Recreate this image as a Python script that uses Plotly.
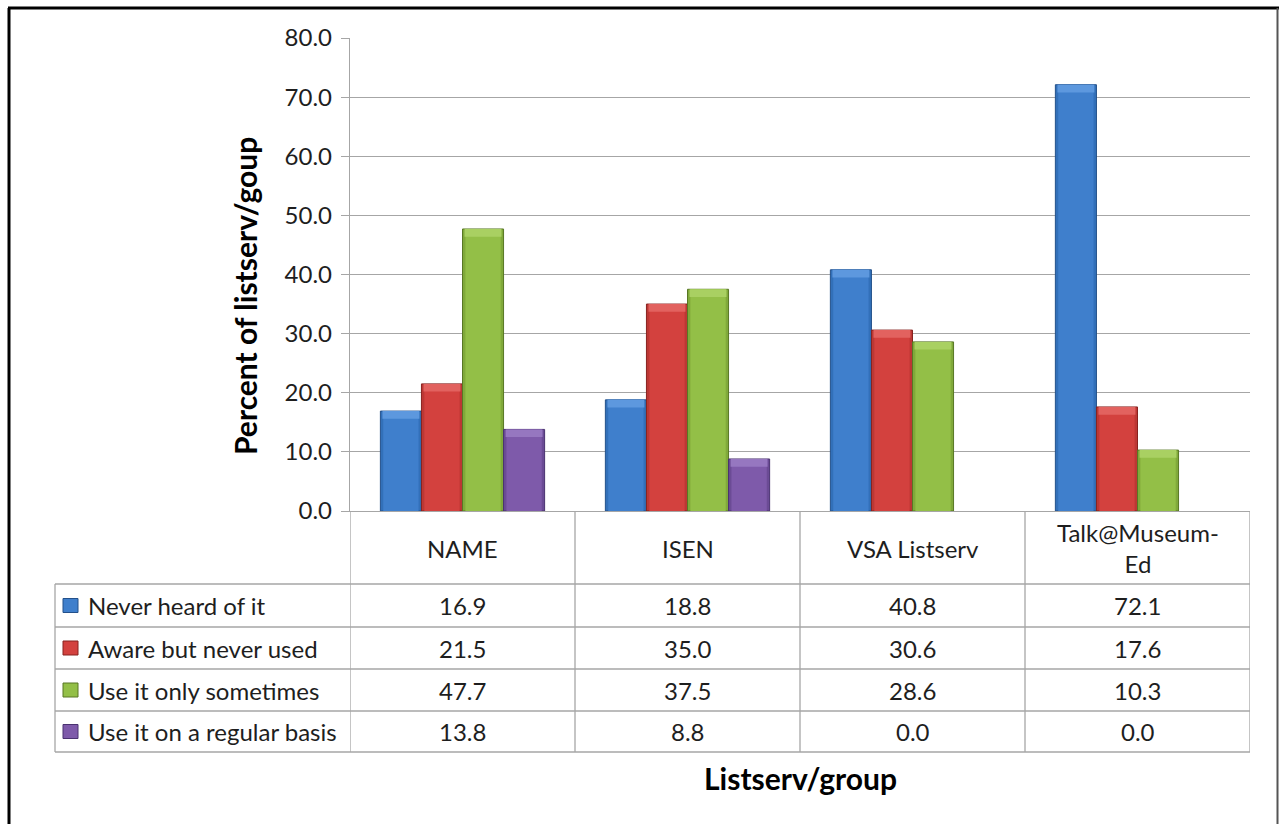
import plotly.graph_objects as go

# Survey data: awareness / use of each listserv or group (percent)
categories = ["NAME", "ISEN", "VSA Listserv", "Talk@Museum-Ed"]
category_labels = ["NAME", "ISEN", "VSA Listserv", "Talk@Museum-<br>Ed"]
series_names = ["Never heard of it", "Aware but never used",
                "Use it only sometimes", "Use it on a regular basis"]
never_heard = [16.9, 18.8, 40.8, 72.1]
aware_never_used = [21.5, 35.0, 30.6, 17.6]
use_sometimes = [47.7, 37.5, 28.6, 10.3]
use_regular = [13.8, 8.8, 0.0, 0.0]
series_values = [never_heard, aware_never_used, use_sometimes, use_regular]
y_ticks = [0, 10, 20, 30, 40, 50, 60, 70, 80]

# Bevelled bar look: side / body / top-highlight / outline shades
body_colors = ["#3F7FCC", "#D3413E", "#93BF47", "#7E5AAA"]
side_colors = ["#3270B9", "#BC3734", "#80A93A", "#6B4B95"]
light_colors = ["#5D98DE", "#E2625F", "#A9D062", "#9677C0"]
edge_colors = ["#23508A", "#87221F", "#587724", "#4A3270"]

W, H = 1279, 824
FONT = "Lato"
GRID = "#A6A6A6"
TEXT = "#1E1E1E"

GAP = 0.27                     # gap between category groups (axis units)
N = len(series_names)
BAR_W = (1 - GAP) / N          # one bar's width in category units
BEVEL = 1.3                    # height of the lighter top bevel (y units)


def px(x):
    return x / W


def py(y):
    return 1 - y / H


fig = go.Figure()

for i, (name, vals) in enumerate(zip(series_names, series_values)):
    off = -(1 - GAP) / 2 + i * BAR_W
    inner = BAR_W * 0.86
    inner_off = off + (BAR_W - inner) / 2
    outline = [1 if v > 0 else 0 for v in vals]
    # full bar with dark outline (sides show through)
    fig.add_trace(go.Bar(
        x=categories, y=vals, name=name, width=BAR_W, offset=off,
        marker=dict(color=side_colors[i],
                    line=dict(color=edge_colors[i], width=outline)),
        showlegend=False, hoverinfo="name+y",
    ))
    # main face of the bar
    fig.add_trace(go.Bar(
        x=categories, y=vals, width=inner, offset=inner_off,
        marker=dict(color=body_colors[i], line=dict(width=0)),
        showlegend=False, hoverinfo="skip",
    ))
    # lighter top bevel
    bev = [min(BEVEL, v) for v in vals]
    fig.add_trace(go.Bar(
        x=categories, y=bev, base=[v - b for v, b in zip(vals, bev)],
        width=BAR_W * 0.9, offset=off + BAR_W * 0.05,
        marker=dict(color=light_colors[i], line=dict(width=0)),
        showlegend=False, hoverinfo="skip",
    ))

# Data table under the plot: grid lines
row_y = [511, 584, 627, 669, 711, 752]
shapes = []
for y in row_y[1:]:
    shapes.append(dict(type="line", xref="paper", yref="paper",
                       x0=px(55), x1=px(1250), y0=py(y), y1=py(y),
                       line=dict(color=GRID, width=1.3)))
shapes.append(dict(type="line", xref="paper", yref="paper",
                   x0=px(55), x1=px(55), y0=py(584), y1=py(752),
                   line=dict(color=GRID, width=1.3)))
for xb in [-0.5, 0.5, 1.5, 2.5, 3.5]:
    shapes.append(dict(type="line", xref="x", yref="paper",
                       x0=xb, x1=xb, y0=py(511), y1=py(752),
                       line=dict(color=GRID, width=1.3)))

# Outer frame
shapes.append(dict(type="line", xref="paper", yref="paper",
                   x0=px(8), x1=px(1279), y0=py(8), y1=py(8),
                   line=dict(color="black", width=3)))
shapes.append(dict(type="line", xref="paper", yref="paper",
                   x0=px(9), x1=px(9), y0=py(8), y1=py(830),
                   line=dict(color="black", width=3)))
shapes.append(dict(type="line", xref="paper", yref="paper",
                   x0=px(1277.5), x1=px(1277.5), y0=py(8), y1=py(830),
                   line=dict(color="#555555", width=2)))

annotations = []
# Header row: category names
for cat, lab in zip(categories, category_labels):
    annotations.append(dict(x=cat, xref="x", y=py(548), yref="paper",
                            text=lab, showarrow=False,
                            font=dict(family=FONT, size=24, color=TEXT),
                            xanchor="center", yanchor="middle"))

row_centers = [605.5, 648, 690, 731.5]
for i, (name, vals, yc) in enumerate(zip(series_names, series_values,
                                         row_centers)):
    # legend key
    shapes.append(dict(type="rect", xref="paper", yref="paper",
                       x0=px(63), x1=px(78), y0=py(yc - 7), y1=py(yc + 7),
                       fillcolor=body_colors[i],
                       line=dict(color=edge_colors[i], width=1)))
    annotations.append(dict(x=px(86), xref="paper", y=py(yc), yref="paper",
                            text=name, showarrow=False,
                            font=dict(family=FONT, size=24, color=TEXT),
                            xanchor="left", yanchor="middle"))
    for cat, v in zip(categories, vals):
        annotations.append(dict(x=cat, xref="x", y=py(yc), yref="paper",
                                text=f"{v:.1f}", showarrow=False,
                                font=dict(family=FONT, size=24, color=TEXT),
                                xanchor="center", yanchor="middle"))

# Axis titles
annotations.append(dict(x=px(800), xref="paper", y=py(778), yref="paper",
                        text="<b>Listserv/group</b>", showarrow=False,
                        font=dict(family=FONT, size=30, color="black"),
                        xanchor="center", yanchor="middle"))
annotations.append(dict(x=px(245), xref="paper", y=py(296), yref="paper",
                        text="<b>Percent of listserv/goup</b>", showarrow=False,
                        textangle=-90,
                        font=dict(family=FONT, size=30, color="black"),
                        xanchor="center", yanchor="middle"))

fig.update_layout(
    width=W, height=H,
    margin=dict(l=0, r=0, t=0, b=0, autoexpand=False),
    paper_bgcolor="white", plot_bgcolor="white",
    barmode="overlay",
    shapes=shapes, annotations=annotations,
    showlegend=False,
    xaxis=dict(domain=[px(350), px(1250)], type="category",
               range=[-0.5, 3.5], showticklabels=False, ticks="",
               showgrid=False, showline=True, linecolor=GRID, linewidth=1.3,
               zeroline=False, automargin=False),
    yaxis=dict(domain=[py(511), py(38)], range=[0, 80],
               tickvals=y_ticks, ticktext=[f"{t:.1f}" for t in y_ticks],
               showgrid=True, gridcolor=GRID, gridwidth=1.3,
               showline=True, linecolor=GRID, linewidth=1.3,
               ticks="outside", ticklen=8, tickcolor=GRID, tickwidth=1.3,
               ticklabelstandoff=4,
               tickfont=dict(family=FONT, size=24, color=TEXT),
               zeroline=False, automargin=False),
)

fig.write_html("out.html")
